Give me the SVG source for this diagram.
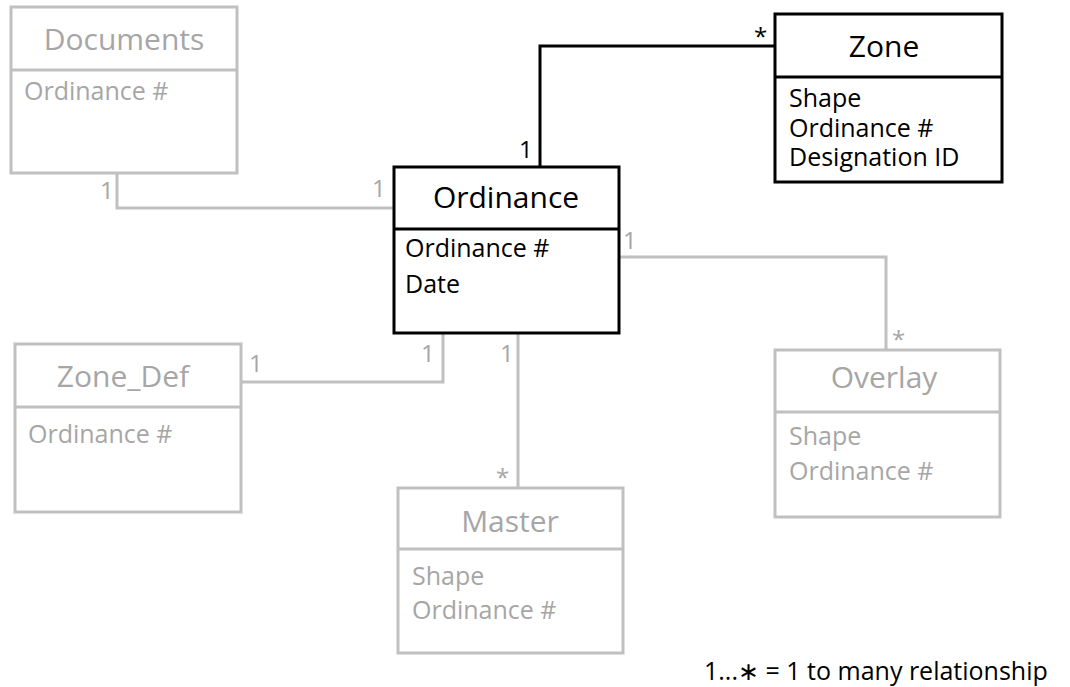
<svg xmlns="http://www.w3.org/2000/svg" width="1070" height="687" viewBox="0 0 1070 687">
  <style>
    text { font-family: "Open Sans", "Noto Sans", "Liberation Sans", sans-serif; }
    .box-dark { fill: #ffffff; stroke: #000000; stroke-width: 3; }
    .box-light { fill: #ffffff; stroke: #c0c0c0; stroke-width: 3; }
    .sep-dark { stroke: #000000; stroke-width: 3; }
    .sep-light { stroke: #c0c0c0; stroke-width: 3; }
    .title { font-size: 30px; text-anchor: middle; }
    .attr { font-size: 25px; }
    .dark { fill: #000000; }
    .light { fill: #a6a6a6; }
    .wire-dark { fill: none; stroke: #000000; stroke-width: 3; }
    .wire-light { fill: none; stroke: #c0c0c0; stroke-width: 3; }
    .mult { font-size: 24px; }
  </style>

  <!-- connectors with multiplicity labels -->
  <g id="connectors">
    <polyline class="wire-light" points="117,173 117,208 394,208"/>
    <text class="mult light" x="100" y="199">1</text>
    <text class="mult light" x="372" y="197">1</text>

    <polyline class="wire-dark" points="540,167 540,46 775,46"/>
    <text class="mult dark" x="519" y="158">1</text>
    <text class="mult dark" x="754" y="45">*</text>

    <polyline class="wire-light" points="619,257 886,257 886,350"/>
    <text class="mult light" x="623" y="249">1</text>
    <text class="mult light" x="892" y="348">*</text>

    <polyline class="wire-light" points="241,382 443,382 443,333"/>
    <text class="mult light" x="249" y="372">1</text>
    <text class="mult light" x="421" y="362">1</text>

    <polyline class="wire-light" points="518,333 518,488"/>
    <text class="mult light" x="500" y="362">1</text>
    <text class="mult light" x="496" y="486">*</text>
  </g>

  <g id="documents">
    <rect class="box-light" x="11" y="7" width="226" height="166"/>
    <line class="sep-light" x1="11" y1="70" x2="237" y2="70"/>
    <text class="title light" x="124" y="50">Documents</text>
    <text class="attr light" x="24" y="100">Ordinance #</text>
  </g>

  <g id="ordinance">
    <rect class="box-dark" x="394" y="167" width="225" height="166"/>
    <line class="sep-dark" x1="394" y1="229" x2="619" y2="229"/>
    <text class="title dark" x="506" y="208">Ordinance</text>
    <text class="attr dark" x="405" y="257">Ordinance #</text>
    <text class="attr dark" x="405" y="293">Date</text>
  </g>

  <g id="zone">
    <rect class="box-dark" x="775" y="14" width="227" height="168"/>
    <line class="sep-dark" x1="775" y1="77" x2="1002" y2="77"/>
    <text class="title dark" x="884" y="57">Zone</text>
    <text class="attr dark" x="789" y="107">Shape</text>
    <text class="attr dark" x="789" y="137">Ordinance #</text>
    <text class="attr dark" x="789" y="166">Designation ID</text>
  </g>

  <g id="zone_def">
    <rect class="box-light" x="15" y="344" width="226" height="168"/>
    <line class="sep-light" x1="15" y1="407" x2="241" y2="407"/>
    <text class="title light" x="123" y="387">Zone_Def</text>
    <text class="attr light" x="28" y="443">Ordinance #</text>
  </g>

  <g id="overlay">
    <rect class="box-light" x="775" y="350" width="225" height="167"/>
    <line class="sep-light" x1="775" y1="412" x2="1000" y2="412"/>
    <text class="title light" x="884" y="388">Overlay</text>
    <text class="attr light" x="789" y="445">Shape</text>
    <text class="attr light" x="789" y="480">Ordinance #</text>
  </g>

  <g id="master">
    <rect class="box-light" x="398" y="488" width="225" height="165"/>
    <line class="sep-light" x1="398" y1="549" x2="623" y2="549"/>
    <text class="title light" x="510" y="532">Master</text>
    <text class="attr light" x="412" y="585">Shape</text>
    <text class="attr light" x="412" y="619">Ordinance #</text>
  </g>

  <g id="legend">
    <text class="dark" x="704" y="680" font-size="25">1...∗  = 1 to many relationship</text>
  </g>
</svg>
